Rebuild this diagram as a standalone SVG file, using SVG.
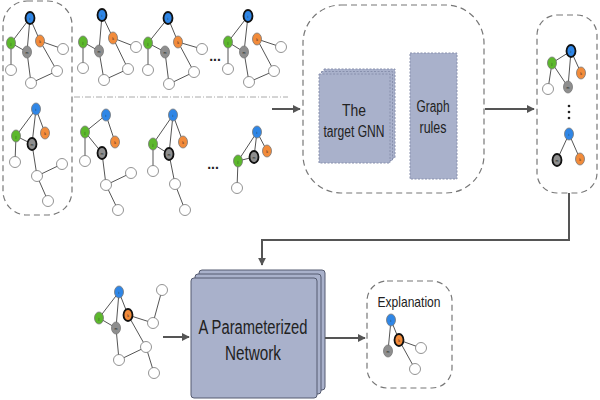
<svg xmlns="http://www.w3.org/2000/svg" width="600" height="400" viewBox="0 0 600 400">
<defs>
<marker id="ah" viewBox="0 0 10 10" refX="9" refY="5" markerWidth="4" markerHeight="4" orient="auto" markerUnits="strokeWidth">
<path d="M0,0 L10,5 L0,10 z" fill="#555"/>
</marker>
<style>
.dbox{fill:none;stroke:#777;stroke-width:1.2;stroke-dasharray:6 4}
.e{stroke:#555;stroke-width:1}
.n{stroke:#777;stroke-width:0.8}
.b{stroke:#111;stroke-width:1.8}
.bl{fill:#2f86e6}
.gr{fill:#5cb82c}
.or{fill:#f28b3a}
.gy{fill:#8e8e8e}
.wh{fill:#fff}
.lb{font-family:"Liberation Sans",Arial,sans-serif;font-size:3.5px;fill:#222;text-anchor:middle}
.t{font-family:"Liberation Sans",Arial,sans-serif;fill:#222;text-anchor:middle}
.dots{font-family:"Liberation Sans",Arial,sans-serif;font-size:14px;font-weight:bold;fill:#222;text-anchor:middle}
.blkd{fill:#a9b1cb;stroke:#8890ad;stroke-width:1;stroke-dasharray:2 1.5}
.blks{fill:#a9b1cb;stroke:#555b70;stroke-width:1}
.conn{fill:none;stroke:#555;stroke-width:2}
.sep{stroke:#aaa;stroke-width:1;stroke-dasharray:6 2 1 2}
</style>
</defs>

<!-- boxes -->
<g id="input-box"><rect class="dbox" x="3" y="1" width="69" height="214" rx="24"/></g>
<g id="gnn-box"><rect class="dbox" x="303" y="5" width="181" height="188" rx="38"/></g>
<g id="output-box"><rect class="dbox" x="537" y="15" width="60" height="178" rx="20"/></g>
<g id="explanation-box"><rect class="dbox" x="367" y="281" width="85" height="107" rx="20"/>
<text class="t" x="409" y="307" font-size="15" textLength="63" lengthAdjust="spacingAndGlyphs">Explanation</text></g>

<line class="sep" x1="74" y1="97" x2="288" y2="97"/>

<!-- Graph 1 -->
<g id="g1">
<line class="e" x1="30" y1="18" x2="11" y2="43"/><line class="e" x1="30" y1="18" x2="27" y2="52"/><line class="e" x1="30" y1="18" x2="40" y2="41"/>
<line class="e" x1="11" y1="43" x2="27" y2="52"/><line class="e" x1="11" y1="43" x2="11" y2="70"/>
<line class="e" x1="40" y1="41" x2="63" y2="49"/><line class="e" x1="40" y1="41" x2="57" y2="71"/>
<line class="e" x1="27" y1="52" x2="31" y2="83"/><line class="e" x1="31" y1="83" x2="57" y2="71"/>
<circle class="n wh" cx="63" cy="49" r="5.5"/><circle class="n wh" cx="11" cy="70" r="5.5"/><circle class="n wh" cx="57" cy="71" r="5.5"/><circle class="n wh" cx="31" cy="83" r="5.5"/>
<ellipse class="b bl" cx="30" cy="18" rx="4.5" ry="6"/><ellipse class="n gr" cx="11" cy="43" rx="4.5" ry="6"/><ellipse class="n gy" cx="27" cy="52" rx="4.5" ry="6"/><ellipse class="n or" cx="40" cy="41" rx="4.5" ry="6"/>
<text class="lb" x="30" y="19.5">i</text><text class="lb" x="11" y="44.5">j</text><text class="lb" x="27" y="53.5">m</text><text class="lb" x="40" y="42.5">k</text>
</g>

<!-- Graph 2 -->
<g id="g2">
<line class="e" x1="102" y1="15" x2="99" y2="51"/><line class="e" x1="102" y1="15" x2="113" y2="38"/>
<line class="e" x1="83" y1="42" x2="99" y2="51"/><line class="e" x1="83" y1="42" x2="83" y2="68"/>
<line class="e" x1="113" y1="38" x2="136" y2="47"/><line class="e" x1="113" y1="38" x2="128" y2="69"/>
<line class="e" x1="99" y1="51" x2="104" y2="80"/><line class="e" x1="104" y1="80" x2="128" y2="69"/>
<circle class="n wh" cx="136" cy="47" r="5.5"/><circle class="n wh" cx="83" cy="68" r="5.5"/><circle class="n wh" cx="128" cy="69" r="5.5"/><circle class="n wh" cx="104" cy="80" r="5.5"/>
<ellipse class="b bl" cx="102" cy="15" rx="4.5" ry="6"/><ellipse class="n gr" cx="83" cy="42" rx="4.5" ry="6"/><ellipse class="n gy" cx="99" cy="51" rx="4.5" ry="6"/><ellipse class="n or" cx="113" cy="38" rx="4.5" ry="6"/>
<text class="lb" x="102" y="16.5">i</text><text class="lb" x="83" y="43.5">j</text><text class="lb" x="99" y="52.5">m</text><text class="lb" x="113" y="39.5">k</text>
</g>

<!-- Graph 3 -->
<g id="g3">
<line class="e" x1="168" y1="18" x2="148" y2="43"/><line class="e" x1="168" y1="18" x2="178" y2="42"/>
<line class="e" x1="148" y1="43" x2="165" y2="52"/><line class="e" x1="148" y1="43" x2="148" y2="70"/>
<line class="e" x1="178" y1="42" x2="202" y2="49"/><line class="e" x1="178" y1="42" x2="194" y2="72"/>
<line class="e" x1="165" y1="52" x2="169" y2="84"/><line class="e" x1="169" y1="84" x2="194" y2="72"/>
<circle class="n wh" cx="202" cy="49" r="5.5"/><circle class="n wh" cx="148" cy="70" r="5.5"/><circle class="n wh" cx="194" cy="72" r="5.5"/><circle class="n wh" cx="169" cy="84" r="5.5"/>
<ellipse class="b bl" cx="168" cy="18" rx="4.5" ry="6"/><ellipse class="n gr" cx="148" cy="43" rx="4.5" ry="6"/><ellipse class="n gy" cx="165" cy="52" rx="4.5" ry="6"/><ellipse class="n or" cx="178" cy="42" rx="4.5" ry="6"/>
<text class="lb" x="168" y="19.5">i</text><text class="lb" x="148" y="44.5">j</text><text class="lb" x="165" y="53.5">m</text><text class="lb" x="178" y="43.5">k</text>
</g>

<text class="dots" x="215" y="61">...</text>

<!-- Graph 4 -->
<g id="g4">
<line class="e" x1="248" y1="16" x2="228" y2="42"/><line class="e" x1="248" y1="16" x2="244" y2="52"/>
<line class="e" x1="228" y1="42" x2="244" y2="52"/><line class="e" x1="228" y1="42" x2="228" y2="69"/>
<line class="e" x1="257" y1="39" x2="281" y2="47"/><line class="e" x1="257" y1="39" x2="274" y2="71"/>
<line class="e" x1="244" y1="52" x2="249" y2="82"/><line class="e" x1="249" y1="82" x2="274" y2="71"/>
<circle class="n wh" cx="281" cy="47" r="5.5"/><circle class="n wh" cx="228" cy="69" r="5.5"/><circle class="n wh" cx="274" cy="71" r="5.5"/><circle class="n wh" cx="249" cy="82" r="5.5"/>
<ellipse class="b bl" cx="248" cy="16" rx="4.5" ry="6"/><ellipse class="n gr" cx="228" cy="42" rx="4.5" ry="6"/><ellipse class="n gy" cx="244" cy="52" rx="4.5" ry="6"/><ellipse class="n or" cx="257" cy="39" rx="4.5" ry="6"/>
<text class="lb" x="248" y="17.5">i</text><text class="lb" x="228" y="43.5">j</text><text class="lb" x="244" y="53.5">m</text><text class="lb" x="257" y="40.5">k</text>
</g>

<!-- Graph 5 -->
<g id="g5">
<line class="e" x1="36" y1="109" x2="16" y2="136"/><line class="e" x1="36" y1="109" x2="32" y2="144"/><line class="e" x1="36" y1="109" x2="45" y2="133"/>
<line class="e" x1="16" y1="136" x2="32" y2="144"/><line class="e" x1="16" y1="136" x2="15" y2="162"/>
<line class="e" x1="32" y1="144" x2="37" y2="176"/><line class="e" x1="37" y1="176" x2="62" y2="164"/><line class="e" x1="37" y1="176" x2="48" y2="201"/>
<circle class="n wh" cx="15" cy="162" r="5.5"/><circle class="n wh" cx="37" cy="176" r="5.5"/><circle class="n wh" cx="62" cy="164" r="5.5"/><circle class="n wh" cx="48" cy="201" r="5.5"/>
<ellipse class="n bl" cx="36" cy="109" rx="4.5" ry="6"/><ellipse class="n gr" cx="16" cy="136" rx="4.5" ry="6"/><ellipse class="b gy" cx="32" cy="144" rx="4.5" ry="6"/><ellipse class="n or" cx="45" cy="133" rx="4.5" ry="6"/>
<text class="lb" x="36" y="110.5">i</text><text class="lb" x="16" y="137.5">j</text><text class="lb" x="32" y="145.5">m</text><text class="lb" x="45" y="134.5">k</text>
</g>

<!-- Graph 6 -->
<g id="g6">
<line class="e" x1="106" y1="115" x2="85" y2="132"/><line class="e" x1="106" y1="115" x2="115" y2="142"/>
<line class="e" x1="85" y1="132" x2="102" y2="153"/><line class="e" x1="85" y1="132" x2="85" y2="161"/>
<line class="e" x1="102" y1="153" x2="106" y2="185"/><line class="e" x1="106" y1="185" x2="131" y2="173"/><line class="e" x1="106" y1="185" x2="118" y2="210"/>
<circle class="n wh" cx="85" cy="161" r="5.5"/><circle class="n wh" cx="106" cy="185" r="5.5"/><circle class="n wh" cx="131" cy="173" r="5.5"/><circle class="n wh" cx="118" cy="210" r="5.5"/>
<ellipse class="n bl" cx="106" cy="115" rx="4.5" ry="6"/><ellipse class="n gr" cx="85" cy="132" rx="4.5" ry="6"/><ellipse class="b gy" cx="102" cy="153" rx="4.5" ry="6"/><ellipse class="n or" cx="115" cy="142" rx="4.5" ry="6"/>
<text class="lb" x="106" y="116.5">i</text><text class="lb" x="85" y="133.5">j</text><text class="lb" x="102" y="154.5">m</text><text class="lb" x="115" y="143.5">k</text>
</g>

<!-- Graph 7 -->
<g id="g7">
<line class="e" x1="173" y1="115" x2="153" y2="144"/><line class="e" x1="173" y1="115" x2="169" y2="154"/><line class="e" x1="173" y1="115" x2="183" y2="142"/>
<line class="e" x1="153" y1="144" x2="169" y2="154"/><line class="e" x1="153" y1="144" x2="153" y2="171"/>
<line class="e" x1="169" y1="154" x2="175" y2="184"/><line class="e" x1="175" y1="184" x2="185" y2="210"/>
<circle class="n wh" cx="153" cy="171" r="5.5"/><circle class="n wh" cx="175" cy="184" r="5.5"/><circle class="n wh" cx="185" cy="210" r="5.5"/>
<ellipse class="n bl" cx="173" cy="115" rx="4.5" ry="6"/><ellipse class="n gr" cx="153" cy="144" rx="4.5" ry="6"/><ellipse class="b gy" cx="169" cy="154" rx="4.5" ry="6"/><ellipse class="n or" cx="183" cy="142" rx="4.5" ry="6"/>
<text class="lb" x="173" y="116.5">i</text><text class="lb" x="153" y="145.5">j</text><text class="lb" x="169" y="155.5">m</text><text class="lb" x="183" y="143.5">k</text>
</g>

<text class="dots" x="213" y="169">...</text>

<!-- Graph 8 -->
<g id="g8">
<line class="e" x1="257" y1="132" x2="238" y2="161"/><line class="e" x1="257" y1="132" x2="254" y2="157"/><line class="e" x1="257" y1="132" x2="267" y2="151"/>
<line class="e" x1="238" y1="161" x2="254" y2="157"/><line class="e" x1="238" y1="161" x2="237" y2="188"/>
<circle class="n wh" cx="237" cy="188" r="5.5"/>
<ellipse class="n bl" cx="257" cy="132" rx="4.5" ry="6"/><ellipse class="n gr" cx="238" cy="161" rx="4.5" ry="6"/><ellipse class="b gy" cx="254" cy="157" rx="4.5" ry="6"/><ellipse class="n or" cx="267" cy="151" rx="4.5" ry="6"/>
<text class="lb" x="257" y="133.5">i</text><text class="lb" x="238" y="162.5">j</text><text class="lb" x="254" y="158.5">m</text><text class="lb" x="267" y="152.5">k</text>
</g>

<!-- Target GNN -->
<g id="target-gnn">
<rect class="blkd" x="324" y="69" width="71" height="89"/>
<rect class="blkd" x="321.5" y="71.5" width="71" height="89"/>
<rect class="blkd" x="319" y="74" width="71" height="89"/>
<text class="t" x="354" y="116" font-size="16" textLength="24" lengthAdjust="spacingAndGlyphs">The</text>
<text class="t" x="354" y="137" font-size="16" textLength="61" lengthAdjust="spacingAndGlyphs">target GNN</text>
</g>

<!-- Graph rules -->
<g id="graph-rules">
<rect class="blkd" x="410" y="53" width="47" height="126"/>
<text class="t" x="433" y="112" font-size="16" textLength="33" lengthAdjust="spacingAndGlyphs">Graph</text>
<text class="t" x="433" y="133" font-size="16" textLength="27" lengthAdjust="spacingAndGlyphs">rules</text>
</g>

<!-- Output graphs -->
<g id="out1">
<line class="e" x1="571" y1="51" x2="552" y2="63"/><line class="e" x1="571" y1="51" x2="568" y2="87"/><line class="e" x1="571" y1="51" x2="581" y2="73"/>
<line class="e" x1="552" y1="63" x2="568" y2="87"/><line class="e" x1="552" y1="63" x2="548" y2="89"/>
<circle class="n wh" cx="548" cy="89" r="5.5"/>
<ellipse class="b bl" cx="571" cy="51" rx="4.5" ry="6"/><ellipse class="n gr" cx="552" cy="63" rx="4.5" ry="6"/><ellipse class="n gy" cx="568" cy="87" rx="4.5" ry="6"/><ellipse class="n or" cx="581" cy="73" rx="4.5" ry="6"/>
<text class="lb" x="571" y="52.5">i</text><text class="lb" x="552" y="64.5">j</text><text class="lb" x="568" y="88.5">m</text><text class="lb" x="581" y="74.5">k</text>
</g>
<g id="vdots" fill="#222"><circle cx="569" cy="106" r="1.3"/><circle cx="569" cy="112" r="1.3"/><circle cx="569" cy="118" r="1.3"/></g>
<g id="out2">
<line class="e" x1="569" y1="134" x2="557" y2="160"/><line class="e" x1="569" y1="134" x2="580" y2="159"/>
<ellipse class="n bl" cx="569" cy="134" rx="4.5" ry="6"/><ellipse class="b gy" cx="557" cy="160" rx="4.5" ry="6"/><ellipse class="n or" cx="580" cy="159" rx="4.5" ry="6"/>
<text class="lb" x="569" y="135.5">i</text><text class="lb" x="557" y="161.5">m</text><text class="lb" x="580" y="160.5">k</text>
</g>

<!-- Input graph bottom -->
<g id="g-in">
<line class="e" x1="119" y1="292" x2="99" y2="318"/><line class="e" x1="119" y1="292" x2="116" y2="328"/><line class="e" x1="119" y1="292" x2="128" y2="315"/>
<line class="e" x1="99" y1="318" x2="116" y2="328"/>
<line class="e" x1="128" y1="315" x2="153" y2="323"/><line class="e" x1="153" y1="323" x2="162" y2="290"/>
<line class="e" x1="128" y1="315" x2="146" y2="347"/>
<line class="e" x1="116" y1="328" x2="119" y2="360"/>
<line class="e" x1="146" y1="347" x2="119" y2="360"/><line class="e" x1="146" y1="347" x2="154" y2="373"/>
<circle class="n wh" cx="162" cy="290" r="5.5"/><circle class="n wh" cx="153" cy="323" r="5.5"/><circle class="n wh" cx="146" cy="347" r="5.5"/><circle class="n wh" cx="119" cy="360" r="5.5"/><circle class="n wh" cx="154" cy="373" r="5.5"/>
<ellipse class="n bl" cx="119" cy="292" rx="4.5" ry="6"/><ellipse class="n gr" cx="99" cy="318" rx="4.5" ry="6"/><ellipse class="n gy" cx="116" cy="328" rx="4.5" ry="6"/><ellipse class="b or" cx="128" cy="315" rx="4.5" ry="6"/>
<text class="lb" x="119" y="293.5">i</text><text class="lb" x="99" y="319.5">j</text><text class="lb" x="116" y="329.5">m</text><text class="lb" x="128" y="316.5">k</text>
</g>

<!-- Parameterized network -->
<g id="param-net">
<rect class="blks" x="199" y="270" width="126" height="120" rx="3"/>
<rect class="blks" x="195" y="274" width="126" height="120" rx="3"/>
<rect class="blks" x="191" y="278" width="126" height="120" rx="3"/>
<text class="t" x="253" y="334" font-size="20" textLength="109" lengthAdjust="spacingAndGlyphs">A Parameterized</text>
<text class="t" x="253" y="360" font-size="20" textLength="56" lengthAdjust="spacingAndGlyphs">Network</text>
</g>

<!-- Explanation graph -->
<g id="g-exp">
<line class="e" x1="391" y1="320" x2="399" y2="340"/><line class="e" x1="391" y1="320" x2="388" y2="351"/>
<line class="e" x1="399" y1="340" x2="421" y2="348"/><line class="e" x1="399" y1="340" x2="415" y2="369"/>
<circle class="n wh" cx="421" cy="348" r="5.5"/><circle class="n wh" cx="415" cy="369" r="5.5"/>
<ellipse class="n bl" cx="391" cy="320" rx="4.5" ry="6"/><ellipse class="b or" cx="399" cy="340" rx="4.5" ry="6"/><ellipse class="n gy" cx="388" cy="351" rx="4.5" ry="6"/>
<text class="lb" x="391" y="321.5">i</text><text class="lb" x="399" y="341.5">k</text><text class="lb" x="388" y="352.5">m</text>
</g>

<!-- connectors -->
<g id="connectors">
<line class="conn" x1="272" y1="109" x2="300" y2="109" marker-end="url(#ah)"/>
<line class="conn" x1="485" y1="109" x2="534" y2="109" marker-end="url(#ah)"/>
<polyline class="conn" points="569,193 569,240 262,240 262,265" marker-end="url(#ah)"/>
<line class="conn" x1="163" y1="337" x2="189" y2="337" marker-end="url(#ah)"/>
<line class="conn" x1="325" y1="338" x2="365" y2="338" marker-end="url(#ah)"/>
</g>
</svg>
